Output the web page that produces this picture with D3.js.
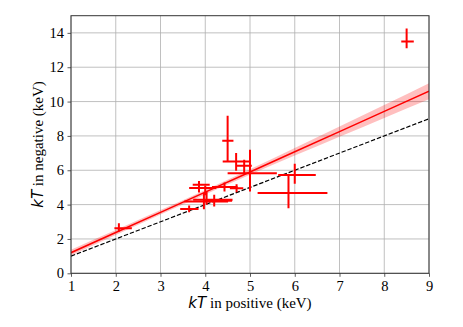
<!DOCTYPE html>
<html><head><meta charset="utf-8">
<script src="https://cdn.jsdelivr.net/npm/d3@7"></script>
<style>body{margin:0;background:#fff}svg{display:block}</style>
</head><body>
<svg id="c" width="463" height="327"></svg>
<script>
// Data
const ptX    = [2.07, 3.64, 3.86, 4.00, 4.03, 3.97, 4.20, 4.43, 4.70, 4.50, 4.69, 4.87, 5.00, 6.00, 5.86, 8.50];
const ptXlo  = [1.97, 3.44, 3.72, 3.64, 3.73, 3.53, 3.95, 4.15, 4.55, 4.38, 4.39, 4.70, 4.50, 5.63, 5.17, 8.38];
const ptXhi  = [2.36, 3.85, 4.10, 4.25, 4.61, 4.51, 4.60, 4.72, 4.85, 4.63, 5.00, 5.04, 5.60, 6.47, 6.73, 8.66];
const ptY    = [2.62, 3.75, 5.15, 4.96, 4.28, 4.18, 4.22, 5.02, 4.95, 7.72, 6.51, 6.26, 5.83, 5.73, 4.67, 13.50];
const ptYlo  = [2.43, 3.56, 4.70, 4.55, 3.99, 3.73, 3.89, 4.76, 4.72, 6.51, 5.97, 5.83, 4.76, 5.21, 3.79, 13.10];
const ptYhi  = [2.92, 3.95, 5.38, 5.10, 4.76, 4.67, 4.57, 5.29, 5.19, 9.18, 7.00, 6.61, 7.19, 6.38, 5.73, 14.25];
const fitX   = [1, 2, 3, 4, 5, 6, 7, 8, 9];
const fitY   = [1.20, 2.375, 3.55, 4.725, 5.90, 7.075, 8.25, 9.425, 10.60];
const bandLo = [1.03, 2.235, 3.42, 4.595, 5.74, 6.855, 7.95, 9.045, 10.13];
const bandHi = [1.37, 2.515, 3.68, 4.855, 6.06, 7.295, 8.55, 9.805, 11.07];
const refX   = [1, 9];
const xTicks = [1, 2, 3, 4, 5, 6, 7, 8, 9];
const yTicks = [0, 2, 4, 6, 8, 10, 12, 14];

const svg = d3.select("#c");
const L = 71, R = 429, T = 15.7, B = 273.3;
const x = d3.scaleLinear().domain([1, 9]).range([L, R]);
const y = d3.scaleLinear().domain([0, 15]).range([B, T]);
const serif = "'Liberation Serif', 'DejaVu Serif', serif";

// grid
const g = svg.append("g");
g.selectAll(".gx").data(xTicks).join("line")
  .attr("x1", d => x(d)).attr("x2", d => x(d)).attr("y1", T).attr("y2", B)
  .attr("stroke", "#b0b0b0").attr("stroke-width", 0.8);
g.selectAll(".gy").data(yTicks).join("line")
  .attr("x1", L).attr("x2", R).attr("y1", d => y(d)).attr("y2", d => y(d))
  .attr("stroke", "#b0b0b0").attr("stroke-width", 0.8);

// clip
svg.append("clipPath").attr("id", "clip").append("rect")
  .attr("x", L).attr("y", T).attr("width", R - L).attr("height", B - T);
const p = svg.append("g").attr("clip-path", "url(#clip)");

// band
const bandData = fitX.map((d, i) => [d, bandLo[i], bandHi[i]]);
p.append("path").datum(bandData)
  .attr("d", d3.area().x(d => x(d[0])).y0(d => y(d[1])).y1(d => y(d[2])).curve(d3.curveMonotoneX))
  .attr("fill", "#f00").attr("fill-opacity", 0.25);
// fit line
p.append("path").datum(fitX.map((d, i) => [d, fitY[i]]))
  .attr("d", d3.line().x(d => x(d[0])).y(d => y(d[1])))
  .attr("fill", "none").attr("stroke", "#f00").attr("stroke-width", 1.5);
// y = x
p.append("path").datum(refX.map(d => [d, d]))
  .attr("d", d3.line().x(d => x(d[0])).y(d => y(d[1])))
  .attr("fill", "none").attr("stroke", "#000").attr("stroke-width", 1.2)
  .attr("stroke-dasharray", "4.4,1.9");

// error bars
const idx = d3.range(ptX.length);
p.selectAll(".ex").data(idx).join("line")
  .attr("x1", i => x(ptXlo[i])).attr("x2", i => x(ptXhi[i]))
  .attr("y1", i => y(ptY[i])).attr("y2", i => y(ptY[i]))
  .attr("stroke", "#f00").attr("stroke-width", 2);
p.selectAll(".ey").data(idx).join("line")
  .attr("x1", i => x(ptX[i])).attr("x2", i => x(ptX[i]))
  .attr("y1", i => y(ptYlo[i])).attr("y2", i => y(ptYhi[i]))
  .attr("stroke", "#f00").attr("stroke-width", 2);

// axes
const ax = svg.append("g").attr("transform", `translate(0,${B})`)
  .call(d3.axisBottom(x).tickValues(xTicks).tickSize(3.5).tickPadding(3.5).tickFormat(d3.format("d")));
const ay = svg.append("g").attr("transform", `translate(${L},0)`)
  .call(d3.axisLeft(y).tickValues(yTicks).tickSize(3.5).tickPadding(3.5).tickFormat(d3.format("d")));
[ax, ay].forEach(a => {
  a.select(".domain").remove();
  a.selectAll("line").attr("stroke", "#333").attr("stroke-width", 0.8);
  a.selectAll("text").attr("fill", "#000").style("font-family", serif).style("font-size", "14.5px");
});
// frame
svg.append("rect").attr("x", L).attr("y", T).attr("width", R - L).attr("height", B - T)
  .attr("fill", "none").attr("stroke", "#333").attr("stroke-width", 1);

// labels
const xl = svg.append("text").attr("x", (L + R) / 2).attr("y", 308).attr("text-anchor", "middle")
  .style("font-family", serif).style("font-size", "15px").attr("fill", "#000");
xl.append("tspan").style("font-family", "'DejaVu Sans', sans-serif").style("font-style", "italic").text("kT");
xl.append("tspan").text(" in positive (keV)");
const yl = svg.append("text").attr("transform", `translate(43,${(T + B) / 2}) rotate(-90)`).attr("text-anchor", "middle")
  .style("font-family", serif).style("font-size", "15px").attr("fill", "#000");
yl.append("tspan").style("font-family", "'DejaVu Sans', sans-serif").style("font-style", "italic").text("kT");
yl.append("tspan").text(" in negative (keV)");
</script>
</body></html>
